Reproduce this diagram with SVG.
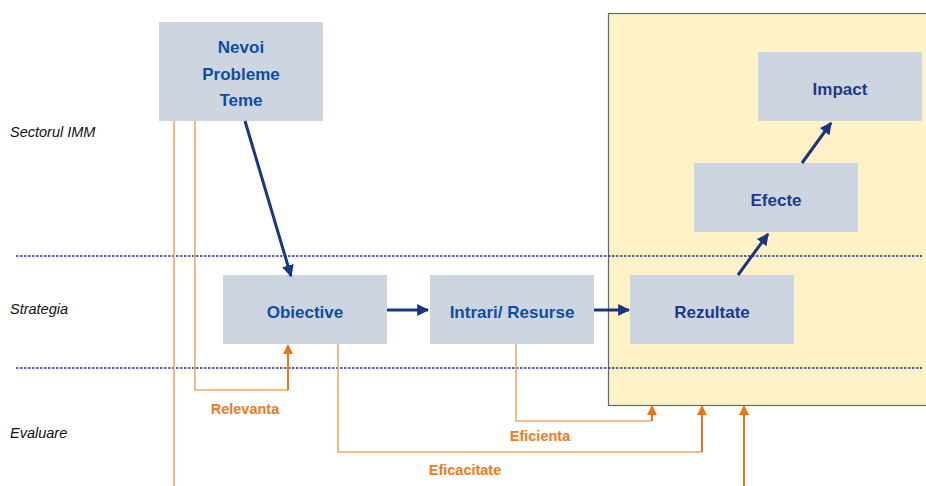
<svg xmlns="http://www.w3.org/2000/svg" width="926" height="486" viewBox="0 0 926 486">
<defs>
<marker id="ab" viewBox="0 0 10 10" refX="9" refY="5" markerWidth="4" markerHeight="4" orient="auto" markerUnits="strokeWidth"><path d="M0,0 L10,5 L0,10 z" fill="#1a3585"/></marker>
<marker id="ao" viewBox="0 0 10 10" refX="9" refY="5" markerWidth="5" markerHeight="5" orient="auto" markerUnits="strokeWidth"><path d="M0,0 L10,5 L0,10 z" fill="#f07414"/></marker>
<style>
.box{fill:#cdd5e1}
.t1{font-family:"Liberation Sans",Arial,sans-serif;font-weight:bold;font-size:17px;fill:#0d4ea0;text-anchor:middle}
.t2{font-family:"Liberation Sans",Arial,sans-serif;font-weight:bold;font-size:17px;fill:#1c3a8b;text-anchor:middle}
.lbl{font-family:"Liberation Sans",Arial,sans-serif;font-style:italic;font-size:14.5px;fill:#111}
.ol{font-family:"Liberation Sans",Arial,sans-serif;font-weight:bold;font-size:14.5px;fill:#f07a1c;text-anchor:middle}
.dot{stroke:#1a3585;stroke-width:1.6;stroke-dasharray:2.5 1.5;fill:none}
.nv{stroke:#1a3585;stroke-width:3;fill:none;marker-end:url(#ab)}
.or{stroke:#f5a565;stroke-width:1.6;fill:none}
.oa{stroke:#f07414;stroke-width:2;fill:none;marker-end:url(#ao)}
</style>
</defs>
<rect x="0" y="0" width="926" height="486" fill="#fff"/>
<rect id="zone" x="608.5" y="13.5" width="330" height="392" fill="#fff2c7" stroke="#5a6890" stroke-width="1.2"/>
<g id="lanes">
<line class="dot" x1="16" y1="256" x2="922" y2="256"/>
<line class="dot" x1="16" y1="368" x2="922" y2="368"/>
<text class="lbl" x="10" y="137">Sectorul IMM</text>
<text class="lbl" x="10" y="314">Strategia</text>
<text class="lbl" x="10" y="438">Evaluare</text>
</g>
<g id="nevoi"><rect class="box" x="159" y="22" width="164" height="99"/>
<text class="t1" x="241" y="53">Nevoi</text><text class="t1" x="241" y="80">Probleme</text><text class="t1" x="241" y="106">Teme</text></g>
<g id="obiective"><rect class="box" x="223" y="275" width="164" height="69"/><text class="t1" x="305" y="318">Obiective</text></g>
<g id="intrari"><rect class="box" x="430" y="275" width="164" height="69"/><text class="t1" x="512" y="318">Intrari/ Resurse</text></g>
<g id="rezultate"><rect class="box" x="630" y="275" width="164" height="69"/><text class="t2" x="712" y="318">Rezultate</text></g>
<g id="efecte"><rect class="box" x="694" y="163" width="164" height="69"/><text class="t2" x="776" y="206">Efecte</text></g>
<g id="impact"><rect class="box" x="758" y="52" width="164" height="69"/><text class="t2" x="840" y="95">Impact</text></g>
<g id="connectors">
<line class="nv" x1="245" y1="121" x2="291" y2="276"/>
<line class="nv" x1="387" y1="310" x2="428" y2="310"/>
<line class="nv" x1="594" y1="310" x2="629" y2="310"/>
<line class="nv" x1="738" y1="275" x2="768" y2="234"/>
<line class="nv" x1="802" y1="163" x2="831" y2="123"/>
<line class="or" x1="174" y1="121" x2="174" y2="486"/>
<polyline class="or" points="195,121 195,390 288,390"/>
<line class="oa" x1="288" y1="390" x2="288" y2="345"/>
<polyline class="or" points="516,344 516,421 652,421"/>
<line class="oa" x1="652" y1="421" x2="652" y2="406"/>
<polyline class="or" points="338,344 338,452 702,452"/>
<line class="oa" x1="702" y1="452" x2="702" y2="406"/>
<line class="oa" x1="744" y1="486" x2="744" y2="406"/>
<text class="ol" x="245" y="414">Relevanta</text>
<text class="ol" x="540" y="441">Eficienta</text>
<text class="ol" x="465" y="475">Eficacitate</text>
</g>
</svg>
